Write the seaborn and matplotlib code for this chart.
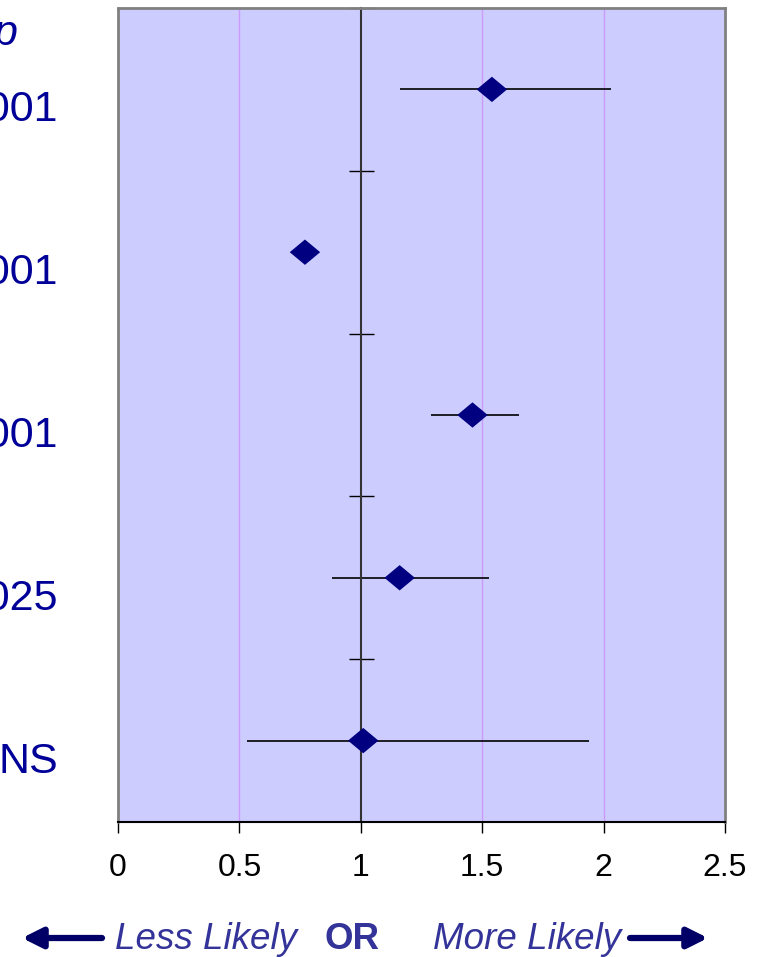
import numpy as np
import pandas as pd
import matplotlib.pyplot as plt
import seaborn as sns
from matplotlib.transforms import blended_transform_factory, offset_copy

# Values
p_labels = ['<0.001', '<0.001', '<0.001', '0.025', 'NS']
odds_ratio = [1.54, 0.77, 1.46, 1.16, 1.01]
ci_low = [1.16, 0.74, 1.29, 0.88, 0.53]
ci_high = [2.03, 0.80, 1.65, 1.53, 1.94]
x_ticks = [0, 0.5, 1, 1.5, 2, 2.5]
x_tick_labels = ['0', '0.5', '1', '1.5', '2', '2.5']

df = pd.DataFrame({'row': range(len(odds_ratio)), 'OR': odds_ratio,
                   'lo': ci_low, 'hi': ci_high, 'p': p_labels})

sns.set_style('white')
plt.rcParams['font.family'] = ['Liberation Sans', 'DejaVu Sans']

W, H = 767, 957
fig = plt.figure(figsize=(W / 100, H / 100), dpi=100)
ax = fig.add_axes([118 / W, 1 - 822 / H, 607 / W, 814 / H])
ax.set_facecolor('#CCCCFF')

# Light purple gridlines
for g in [0.5, 1.5, 2]:
    ax.axvline(g, color='#CC99FF', lw=1, zorder=1)

# Confidence intervals and point estimates
ax.hlines(df['row'], df['lo'], df['hi'], color='black', lw=1.2, zorder=2)
diamond = [(-1.2, 0), (0, 1), (1.2, 0), (0, -1), (-1.2, 0)]
sns.scatterplot(data=df, x='OR', y='row', marker=diamond, s=480,
                color='#000080', edgecolor='none', ax=ax, zorder=3)

ax.set_xlim(0, 2.5)
ax.set_ylim(4.5, -0.5)
ax.set_xlabel('')
ax.set_ylabel('')

# y axis crosses at OR = 1
ax.spines['left'].set_position(('data', 1))
ax.spines['left'].set_color('#333333')
ax.spines['left'].set_linewidth(1.5)
ax.spines['left'].set_zorder(2.5)
ax.set_yticks([-0.5, 0.5, 1.5, 2.5, 3.5])
ax.set_yticklabels([])
ax.tick_params(axis='y', direction='inout', length=18, width=1, colors='black', left=True)

for s in ['top', 'right']:
    ax.spines[s].set_color('#808080')
    ax.spines[s].set_linewidth(2)
ax.axvline(0, color='#808080', lw=2, clip_on=False, zorder=4)
ax.spines['bottom'].set_color('black')
ax.spines['bottom'].set_linewidth(1.5)
ax.spines['bottom'].set_zorder(5)

ax.set_xticks(x_ticks)
ax.set_xticklabels(x_tick_labels)
ax.tick_params(axis='x', direction='out', length=8, width=1, pad=14,
               labelsize=23, colors='black', bottom=True)

# p-value column (cut off at the left edge, as in the original)
trans = blended_transform_factory(fig.transFigure, ax.transData)
trans = offset_copy(trans, fig=fig, y=-21, units='dots')
for r, lab in zip(df['row'], df['p']):
    ax.text(58 / W, r, lab, transform=trans, ha='right', va='center',
            fontsize=31, color='#000099', clip_on=False)
fig.text(17 / W, 1 - 34 / H, 'p', ha='right', va='center', fontsize=31,
         style='italic', color='#000099')

# Bottom annotation
yb = 1 - 949 / H
fig.text(115 / W, yb, 'Less Likely', ha='left', va='baseline', fontsize=26.5,
         style='italic', color='#333399')
fig.text(325 / W, yb, 'OR', ha='left', va='baseline', fontsize=26.5,
         weight='bold', color='#333399')
fig.text(433 / W, yb, 'More Likely', ha='left', va='baseline', fontsize=26.5,
         style='italic', color='#333399')
ya = 1 - 938 / H
arrow = dict(arrowstyle='-|>', color='#000066', lw=4.5, mutation_scale=30,
             shrinkA=0, shrinkB=0)
fig.add_artist(plt.Annotation('', xy=(22 / W, ya), xytext=(102 / W, ya),
                              xycoords='figure fraction', arrowprops=arrow))
fig.add_artist(plt.Annotation('', xy=(708 / W, ya), xytext=(630 / W, ya),
                              xycoords='figure fraction', arrowprops=arrow))

fig.savefig('out.png', dpi=100)
plt.close()
